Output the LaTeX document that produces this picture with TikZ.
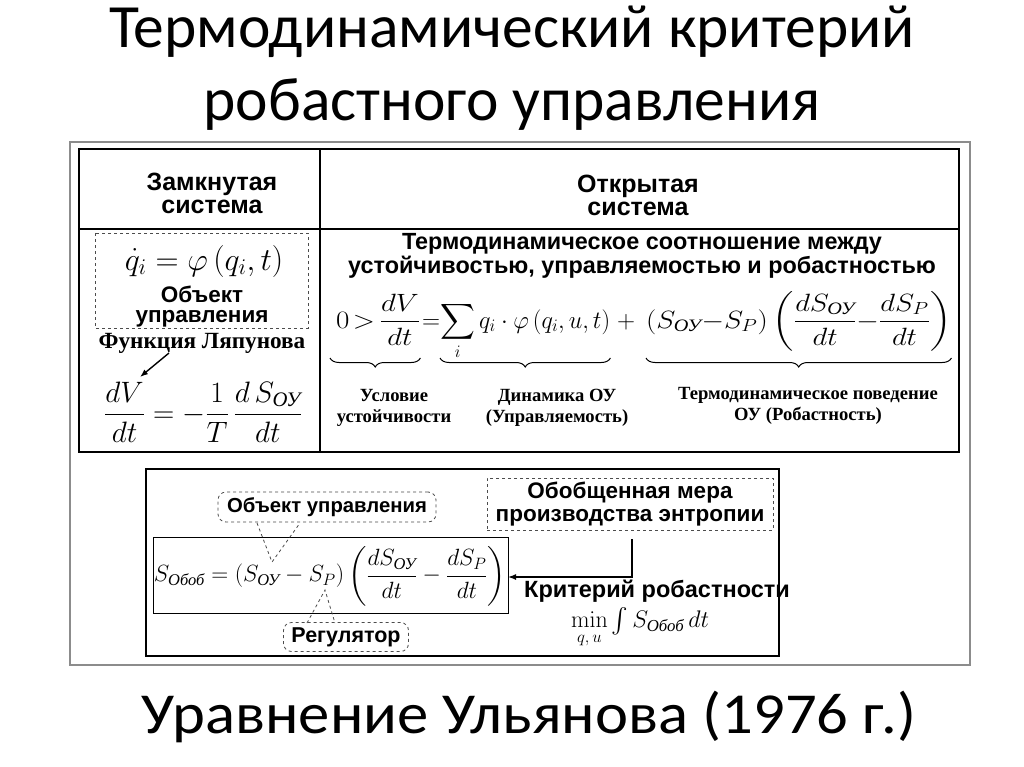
\RequirePackage{fix-cm}
\documentclass[tikz,border=0pt]{standalone}
\usepackage{amsmath}
\usepackage{graphicx}
\usepackage[no-math]{fontspec}
\setmainfont{Carlito}
\newfontfamily\ttlf[FakeStretch=1.08]{Carlito}
\newfontfamily\arialf{Liberation Sans}
\newfontfamily\tnrf{Liberation Serif}
\usetikzlibrary{arrows.meta,decorations.pathreplacing}
\newcommand\cy[1]{\text{\tnrf\itshape #1}}
\tikzset{
  title/.style={font=\fontsize{61.5}{64}\selectfont, inner sep=0, anchor=base},
  hdr/.style={font=\arialf\bfseries\fontsize{25}{23}\selectfont, align=center, inner sep=0},
  lbl/.style={font=\arialf\bfseries\fontsize{23.4}{21}\selectfont, align=center, inner sep=0},
  blbl/.style={font=\arialf\bfseries\fontsize{22.5}{23}\selectfont, align=center, inner sep=0},
  srf/.style={font=\tnrf\bfseries\fontsize{18.6}{21}\selectfont, align=center, inner sep=0},
  mth/.style={font=\fontsize{25}{30}\selectfont, inner sep=0},
  dbox/.style={draw=black!70, dashed, line width=0.8pt},
  rdbox/.style={draw=black!70, dashed, line width=0.8pt, rounded corners=8pt, inner sep=0},
  thick box/.style={draw=black, line width=2.2pt},
  brc/.style={decorate, decoration={brace, mirror, amplitude=9pt}, line width=1pt},
  conn/.style={line width=1.4pt, -{Latex[length=8pt,width=6pt]}},
}
\begin{document}
\begin{tikzpicture}[x=1pt,y=-1pt]
\useasboundingbox[fill=white] (0,0) rectangle (1024,767);
% titles
\node[title] (t1) at (512,48) {Термодинамический критерий};
\node[title] (t2) at (512,121) {робастного управления};
\node[title, font=\ttlf\fontsize{58}{62}\selectfont] (t3) at (529,733) {Уравнение Ульянова (1976 г.)};
% image frame
\draw[black!45, line width=1.2pt] (70,142) rectangle (970,665);
% table
\draw[thick box] (79,149) rectangle (959,452);
\draw[line width=1.4pt] (320,149) -- (320,452);
\draw[line width=1.2pt] (79,229) -- (959,229);
% left column
\node[hdr] (hL) at (212,193) {Замкнутая\\система};
\draw[dbox] (95,233) rectangle (308,328);
\node[mth, font=\fontsize{32}{34}\selectfont] (qf) at (204,262) {$\dot q_i=\varphi\left(q_i,t\right)$};
\node[blbl, font=\arialf\bfseries\fontsize{22.5}{20}\selectfont] (objL) at (202,307) {Объект\\управления};
\node[srf, font=\tnrf\bfseries\fontsize{23.2}{24}\selectfont] (lyap) at (202,343) {Функция Ляпунова};
\node[mth, font=\fontsize{29.5}{32}\selectfont] (lf) at (203,412) {$\displaystyle\frac{dV}{dt}=-\frac{1}{T}\,\frac{d\,S_{\cy{ОУ}}}{dt}$};
\coordinate (vtip) at (140,377);
\draw[line width=1.4pt, -{Latex[length=8pt,width=6pt]}] (169,353) -- (vtip);
% right column
\node[hdr] (hR) at (638,195) {Открытая\\система};
\node[lbl] (rel) at (642,256) {Термодинамическое соотношение между\\устойчивостью, управляемостью и робастностью};
\node[mth, anchor=base west] (f1) at (336,328) {\resizebox{84pt}{\height}{$\displaystyle 0\mkern2mu{>}\mkern3mu\frac{dV}{dt}$}};
\node[mth, anchor=base] (feq) at (431,328) {$=$};
\node[mth, anchor=base west] (f2) at (440,328) {\resizebox{170pt}{\height}{$\displaystyle \sum_i q_i\cdot\varphi\left(q_i,u,t\right)$}};
\node[mth, anchor=base] (fpl) at (626,328) {$+$};
\node[mth, anchor=base west] (f3) at (646,328) {\resizebox{305pt}{\height}{$\displaystyle \left(S_{\cy{ОУ}}{-}S_P\right)\left(\frac{dS_{\cy{ОУ}}}{dt}{-}\frac{dS_P}{dt}\right)$}};
\coordinate (bl) at (0,358);
\draw[brc] ([xshift=-6pt]f1.west |- bl) -- (f1.east |- bl);
\draw[brc] (f2.west |- bl) -- (f2.east |- bl);
\draw[brc] (f3.west |- bl) -- (f3.east |- bl);
\node[srf] (u1) at (394,408) {Условие\\устойчивости};
\node[srf] (u2) at (557,408) {Динамика ОУ\\(Управляемость)};
\node[srf] (u3) at (808,406) {Термодинамическое поведение\\ОУ (Робастность)};
% bottom box
\draw[thick box] (146,469) rectangle (779,656);
\draw[line width=0.8pt] (153,537) rectangle (508,613);
\node[blbl, rdbox, minimum width=218, minimum height=30, font=\arialf\bfseries\fontsize{20.3}{23}\selectfont] (ob) at (327,507) {Объект управления};
\node[mth, font=\fontsize{23.5}{28}\selectfont] (bf) at (330,576) {$\displaystyle S_{\cy{Обоб}}=\left(S_{\cy{ОУ}}-S_P\right)\left(\frac{dS_{\cy{ОУ}}}{dt}-\frac{dS_P}{dt}\right)$};
\node[blbl, rdbox, minimum width=125, minimum height=29, font=\arialf\bfseries\fontsize{21.5}{23}\selectfont] (rg) at (346,637) {Регулятор};
\coordinate (soy) at (272,562);
\coordinate (sp) at (325,590);
\draw[dbox] (257,523) -- (soy) -- (300,523);
\draw[dbox] (307,623) -- (sp) -- (335,623);
\node[blbl, dbox, inner sep=0, minimum width=286, minimum height=52] (mer) at (630,504) {Обобщенная мера\\производства энтропии};
\coordinate (bend) at (632,577);
\draw[conn] (632,539) -- (bend) -- (508,577);
\node[blbl, font=\arialf\bfseries\fontsize{23.5}{23}\selectfont] (kr) at (657,591) {Критерий робастности};
\node[mth, font=\fontsize{24}{28}\selectfont] (mn) at (640,628) {$\min\limits_{q,\,u}\int S_{\cy{Обоб}}\,dt$};
\end{tikzpicture}
\end{document}
